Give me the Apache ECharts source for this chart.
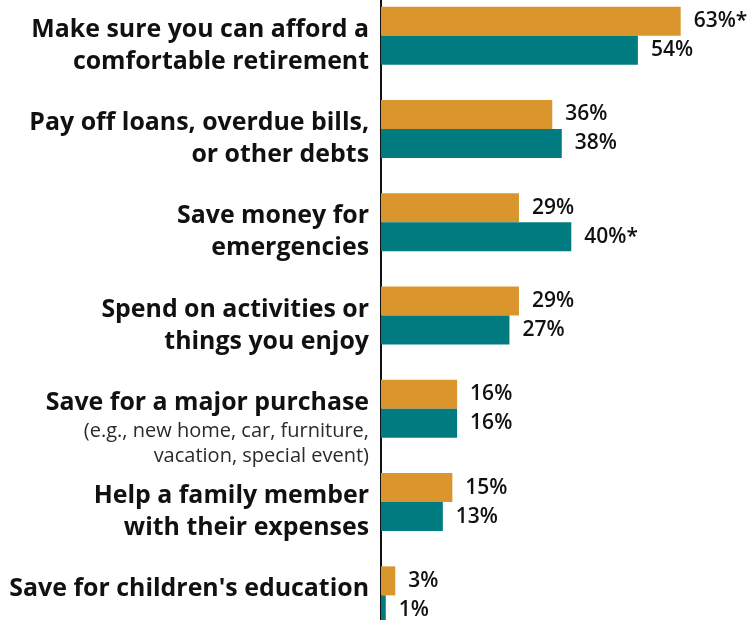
<!DOCTYPE html>
<html>
<head>
<meta charset="utf-8">
<script src="https://cdn.jsdelivr.net/npm/echarts@6/dist/echarts.min.js"></script>
<style>
  html, body { margin: 0; padding: 0; background: #fff; overflow: hidden; }
  /* the plot extends a little past the top and bottom of the page */
  #chart { width: 749px; height: 654px; margin-top: -11px; }
</style>
</head>
<body>
<div id="chart"></div>
<script>
// Financial priorities, two groups compared (percent)
const categories = [
  'Make sure you can afford a\ncomfortable retirement',
  'Pay off loans, overdue bills,\nor other debts',
  'Save money for\nemergencies',
  'Spend on activities or\nthings you enjoy',
  'Save for a major purchase',
  'Help a family member\nwith their expenses',
  "Save for children's education"
];
const categoryNotes = ['', '', '', '', '(e.g., new home, car, furniture,\nvacation, special event)', '', ''];
const orangeValues = [63, 36, 29, 29, 16, 15, 3];
const tealValues = [54, 38, 40, 27, 16, 13, 1];
const orangeFlags = ['*', '', '', '', '', '', ''];
const tealFlags = ['', '', '*', '', '', '', ''];

const ORANGE = '#DA952C';
const TEAL = '#007C80';
const FONT = 'Open Sans';

const chart = echarts.init(document.getElementById('chart'), null, { renderer: 'canvas' });

function categoryLabel(value) {
  const idx = categories.indexOf(value);
  let parts = value.split('\n').map(l => '{main|' + l + '}');
  const note = categoryNotes[idx];
  if (note) parts = parts.concat(note.split('\n').map(l => '{note|' + l + '}'));
  return parts.join('\n');
}

const valueLabel = (flags) => ({
  show: true,
  position: 'right',
  distance: 13,
  fontFamily: FONT,
  fontWeight: 600,
  fontSize: 21,
  color: '#111',
  formatter: p => p.value + '%' + flags[p.dataIndex]
});

chart.setOption({
  animation: false,
  backgroundColor: '#fff',
  grid: { left: 381, top: 0, width: 333, height: 653, outerBoundsMode: 'none' },
  xAxis: {
    type: 'value', min: 0, max: 70,
    axisLine: { show: false }, axisTick: { show: false },
    axisLabel: { show: false }, splitLine: { show: false }
  },
  yAxis: {
    type: 'category',
    inverse: true,
    data: categories,
    axisLine: { show: true, lineStyle: { color: '#111', width: 2 } },
    axisTick: { show: false },
    axisLabel: {
      margin: 12,
      align: 'right',
      verticalAlign: 'top',
      padding: [-22, 0, 0, 0],
      formatter: categoryLabel,
      rich: {
        main: { fontFamily: FONT, fontWeight: 'bold', fontSize: 24.9, lineHeight: 32, color: '#111', align: 'right' },
        note: { fontFamily: FONT, fontWeight: 'normal', fontSize: 20, lineHeight: 25, color: '#2a2a2a', align: 'right' }
      }
    }
  },
  series: [
    {
      name: 'First group', type: 'bar', data: orangeValues,
      barWidth: 29, barGap: '0%',
      itemStyle: { color: ORANGE },
      label: valueLabel(orangeFlags)
    },
    {
      name: 'Second group', type: 'bar', data: tealValues,
      barWidth: 29, barGap: '0%',
      itemStyle: { color: TEAL },
      label: valueLabel(tealFlags)
    }
  ]
});
</script>
</body>
</html>
